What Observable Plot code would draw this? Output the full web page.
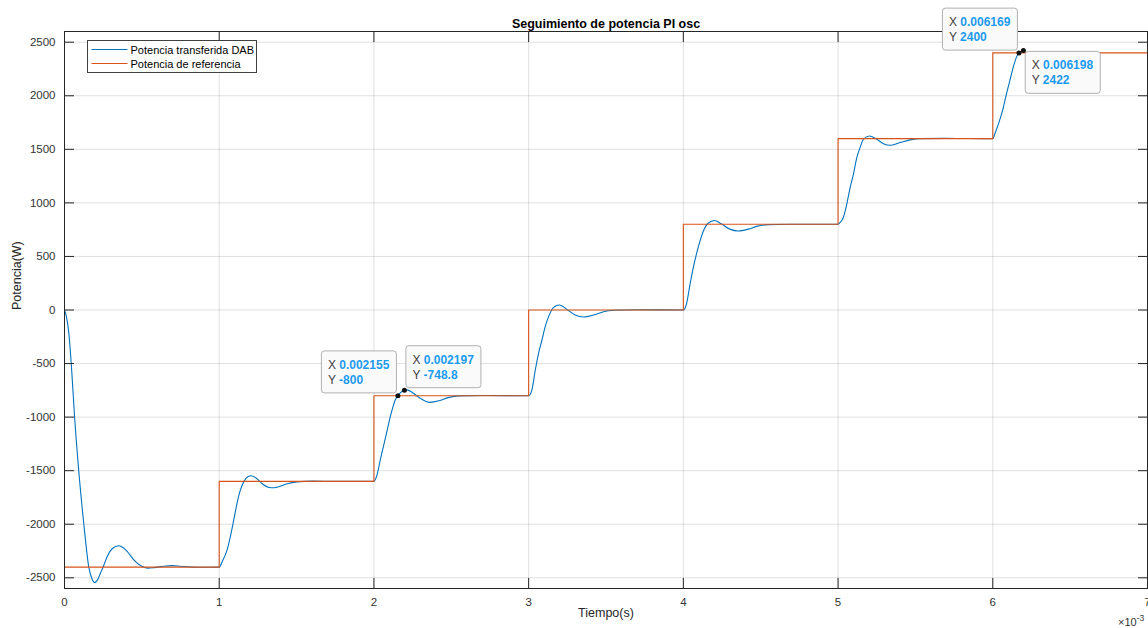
<!DOCTYPE html>
<html><head><meta charset="utf-8">
<script src="https://cdn.jsdelivr.net/npm/d3@7"></script>
<script src="https://cdn.jsdelivr.net/npm/@observablehq/plot@0.6"></script>
<style>html,body{margin:0;padding:0;background:#fff;} #chart{width:1148px;height:628px;overflow:hidden;}</style>
</head><body><div id="chart"></div>
<script>
const titleText = "Seguimiento de potencia PI osc";
const xLabel = "Tiempo(s)";
const yLabel = "Potencia(W)";
const seriesNames = ["Potencia transferida DAB", "Potencia de referencia"];

const xTicks = [0, 1, 2, 3, 4, 5, 6, 7];
const yTicks = [-2500, -2000, -1500, -1000, -500, 0, 500, 1000, 1500, 2000, 2500];

// Potencia transferida DAB (time in ms, power in W)
const blueT = [
  0, 0.012, 0.028, 0.045, 0.065, 0.092, 0.125, 0.157, 0.175, 0.196, 0.215, 0.233, 0.255, 0.276, 0.308, 0.351, 0.38, 0.405, 0.448, 0.491, 0.538, 0.58, 0.64, 0.696, 0.75, 0.82, 0.9, 1.0,
  1.019, 1.051, 1.072, 1.094, 1.115, 1.137, 1.16, 1.185, 1.205, 1.24, 1.28, 1.335, 1.38, 1.44, 1.5, 1.6, 1.75, 2.0,
  2.02, 2.041, 2.074, 2.106, 2.138, 2.155, 2.197, 2.215, 2.25, 2.3, 2.36, 2.42, 2.48, 2.55, 2.7, 3.0,
  3.021, 3.043, 3.064, 3.086, 3.107, 3.129, 3.161, 3.2, 3.247, 3.301, 3.355, 3.419, 3.484, 3.55, 3.7, 4.0,
  4.02, 4.042, 4.064, 4.086, 4.107, 4.129, 4.16, 4.2, 4.245, 4.3, 4.355, 4.42, 4.48, 4.55, 4.7, 5.0,
  5.012, 5.034, 5.056, 5.078, 5.099, 5.121, 5.142, 5.164, 5.202, 5.25, 5.293, 5.336, 5.4, 5.465, 5.53, 5.7, 6.0,
  6.012, 6.035, 6.064, 6.089, 6.111, 6.133, 6.154, 6.169, 6.198
];
const blueP = [
  0, -60, -217, -529, -995, -1500, -2000, -2400, -2500, -2545, -2515, -2455, -2380, -2301, -2229, -2201, -2220, -2254, -2332, -2385, -2410, -2405, -2392, -2386, -2392, -2400, -2402, -2400,
  -2350, -2240, -2115, -1960, -1805, -1680, -1600, -1556, -1548, -1570, -1625, -1660, -1652, -1622, -1605, -1598, -1600, -1600,
  -1540, -1400, -1197, -995, -840, -800, -748.8, -746, -772, -825, -862, -848, -818, -802, -798, -800,
  -746, -560, -404, -280, -156, -62, 25, 47, 6, -47, -65, -47, -16, -3, 2, 0,
  55, 230, 395, 530, 640, 735, 810, 835, 805, 755, 738, 755, 783, 797, 801, 800,
  815, 863, 987, 1143, 1267, 1423, 1516, 1594, 1625, 1594, 1553, 1538, 1563, 1588, 1600, 1602, 1600,
  1640, 1730, 1866, 2021, 2146, 2270, 2363, 2400, 2422
];

// Potencia de referencia (step levels)
const refT = [0, 1, 2, 3, 4, 5, 6, 7];
const refP = [-2400, -1600, -800, 0, 800, 1600, 2400, 2400];

// Data tips
const tipT = [2.155, 2.197, 6.169, 6.198];
const tipP = [-800, -748.8, 2400, 2422];
const tipXText = ["0.002155", "0.002197", "0.006169", "0.006198"];
const tipYText = ["-800", "-748.8", "2400", "2422"];
const tipSide = ["nw", "ne", "nw", "se"];

const blue = blueT.map((t, i) => ({t, p: blueP[i]}));
const ref = refT.map((t, i) => ({t, p: refP[i]}));
const tips = tipT.map((t, i) => ({t, p: tipP[i], xs: tipXText[i], ys: tipYText[i], side: tipSide[i]}));

const FONT = "'Liberation Sans', Arial, Helvetica, sans-serif";
const AX = "#262626";
const fmt = d => String(d);
const none = () => "";

const plot = Plot.plot({
  width: 1148, height: 628,
  marginTop: 31, marginBottom: 40, marginLeft: 64, marginRight: 1,
  style: {fontFamily: FONT, fontSize: "11.5px", color: AX, background: "#fff", overflow: "visible"},
  x: {domain: [0, 7]},
  y: {domain: [-2600, 2600]},
  marks: [
    Plot.gridX(xTicks, {stroke: AX, strokeOpacity: 0.14}),
    Plot.gridY(yTicks, {stroke: AX, strokeOpacity: 0.14}),
    Plot.line(blue, {x: "t", y: "p", stroke: "#0072BD", strokeWidth: 1.1, curve: "monotone-x"}),
    Plot.line(ref, {x: "t", y: "p", stroke: "#D95319", strokeWidth: 1.1, curve: "step-after"}),
    Plot.frame({stroke: AX, strokeWidth: 1}),
    Plot.axisX(xTicks, {anchor: "bottom", tickSize: 0, tickPadding: 9, label: null, tickFormat: fmt, fill: "#333"}),
    Plot.axisY(yTicks, {anchor: "left", tickSize: 0, tickPadding: 9, label: null, tickFormat: fmt, fill: "#333"}),
    Plot.axisX(xTicks, {anchor: "bottom", tickSize: 10, dy: -10, tickFormat: none, label: null, stroke: AX}),
    Plot.axisX(xTicks, {anchor: "top", tickSize: 10, dy: 10, tickFormat: none, label: null, stroke: AX}),
    Plot.axisY(yTicks, {anchor: "left", tickSize: 10, dx: 10, tickFormat: none, label: null, stroke: AX}),
    Plot.axisY(yTicks, {anchor: "right", tickSize: 10, dx: -10, tickFormat: none, label: null, stroke: AX}),
    Plot.text([titleText], {frameAnchor: "top", dy: -12, fontWeight: "bold", fontSize: 12.5, fill: "#000"}),
    Plot.text([xLabel], {frameAnchor: "bottom", dy: 28, fontSize: 12.5, fill: "#262626"}),
    Plot.text([yLabel], {frameAnchor: "left", dx: -48, rotate: -90, fontSize: 12.5, fill: "#262626"}),
    Plot.dot(tips, {x: "t", y: "p", r: 2.5, fill: "#111", stroke: "none"})
  ]
});
document.getElementById("chart").appendChild(plot);

const svg = d3.select(plot);
const sx = plot.scale("x"), sy = plot.scale("y");

// exponent label
const ex = svg.append("text").attr("x", 1118).attr("y", 626).attr("text-anchor", "start")
  .attr("font-size", 11).attr("fill", "#333").attr("font-family", FONT);
ex.append("tspan").text("×10");
ex.append("tspan").attr("dy", -5).attr("font-size", 8.5).text("-3");

// data tips (inserted below the dots)
const dotsNode = svg.select("g[aria-label=dot]").node();
const tipLayer = svg.insert("g", () => dotsNode).attr("text-anchor", "start");
tips.forEach(tp => {
  const px = sx.apply(tp.t), py = sy.apply(tp.p);
  const w = 75, h = 42;
  let bx, by;
  if (tp.side === "nw") { bx = px - w - 1; by = py - h - 2.3; }
  else if (tp.side === "ne") { bx = px + 2; by = py - h - 2; }
  else { bx = px + 2.3; by = py + 1.3; }
  const g = tipLayer.append("g").attr("transform", `translate(${bx},${by})`).attr("font-family", FONT).attr("font-size", 12);
  g.append("rect").attr("x", 0).attr("y", 0).attr("width", w).attr("height", h).attr("rx", 3)
    .attr("fill", "#fafafa").attr("stroke", "#b0b0b0").attr("stroke-width", 1);
  const l1 = g.append("text").attr("x", 6.5).attr("y", 18);
  l1.append("tspan").attr("fill", "#404040").text("X ");
  l1.append("tspan").attr("fill", "#1a9bf0").attr("font-weight", "bold").text(tp.xs);
  const l2 = g.append("text").attr("x", 6.5).attr("y", 33);
  l2.append("tspan").attr("fill", "#404040").text("Y ");
  l2.append("tspan").attr("fill", "#1a9bf0").attr("font-weight", "bold").text(tp.ys);
});

// legend
const lg = svg.append("g").attr("font-family", FONT).attr("font-size", 11).attr("text-anchor", "start");
lg.append("rect").attr("x", 87.5).attr("y", 40.5).attr("width", 169).attr("height", 32)
  .attr("fill", "#fff").attr("stroke", "#404040").attr("stroke-width", 1);
const legColors = ["#0072BD", "#D95319"];
seriesNames.forEach((name, i) => {
  const yy = 49.5 + i * 14;
  lg.append("line").attr("x1", 91.5).attr("x2", 127.5).attr("y1", yy).attr("y2", yy)
    .attr("stroke", legColors[i]).attr("stroke-width", 1.1);
  lg.append("text").attr("x", 130.5).attr("y", yy + 4).attr("fill", "#000").text(name);
});
</script></body></html>
